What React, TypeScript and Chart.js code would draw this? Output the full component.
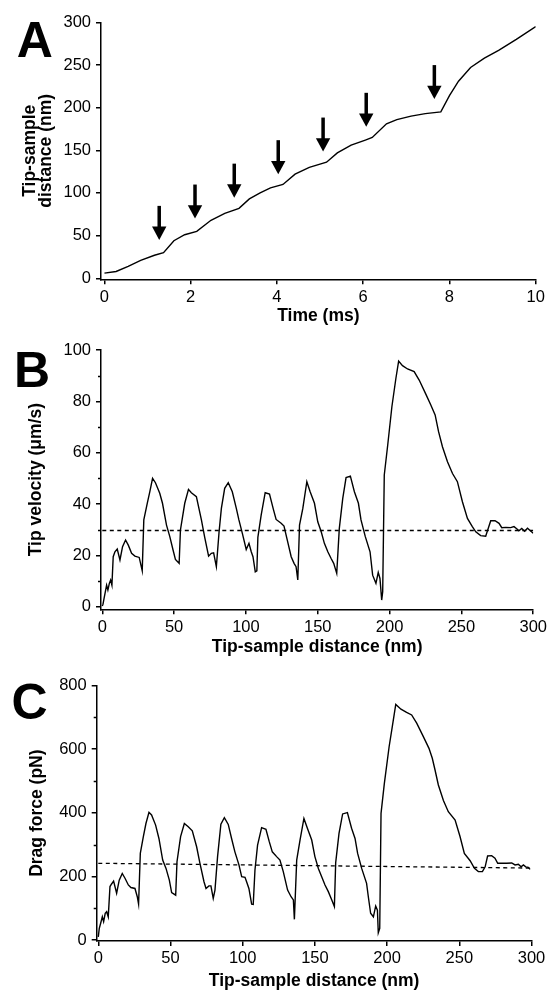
import React, { useEffect, useRef } from 'react';
import { Chart, registerables } from 'chart.js';

Chart.register(...registerables);

const FONT = "'Liberation Sans', Arial, Helvetica, sans-serif";

// ---------- Panel A: tip-sample distance vs time ----------
const timeA = [0, 0.27, 0.55, 0.84, 1.16, 1.37, 1.61, 1.86, 2.14, 2.47, 2.79, 3.12, 3.36, 3.61, 3.85, 4.14, 4.42, 4.75, 5.15, 5.4, 5.72, 6.05, 6.21, 6.54, 6.78, 7.11, 7.44, 7.8, 8.0, 8.21, 8.49, 8.81, 9.14, 9.55, 10];
const distA = [6, 8, 14, 21, 27, 30, 44, 51, 55, 68, 76, 82, 93, 100, 106, 110, 122, 130, 136, 147, 156, 162, 165, 181, 186, 190, 193, 195, 214, 231, 247, 258, 267, 280, 295];
const arrowTimes = [1.27, 2.1, 3.01, 4.03, 5.07, 6.07, 7.65];
const arrowTips = [45, 70, 94.5, 122, 148.5, 177.5, 210];
const ticksAx = [0, 2, 4, 6, 8, 10];
const ticksAy = [0, 50, 100, 150, 200, 250, 300];

// ---------- Panel B: tip velocity vs distance ----------
const distB = [0, 0.5, 1.2, 2.1, 3, 3.9, 4.9, 5.8, 6.7, 7.6, 8.8, 10.4, 12.3, 14.1, 16.2, 18.1, 20.4, 22.7, 25.7, 27.8, 28.9, 31.3, 33.1, 35, 37, 40, 41.9, 44.7, 47, 49.3, 50.9, 53.5, 54.4, 57.4, 60, 62, 65.5, 69, 71.3, 74, 75.9, 77.5, 79.4, 81.3, 82.9, 85.2, 87.7, 90.5, 93.3, 95.1, 97.5, 100.2, 102.1, 103.7, 104.9, 106.5, 107.6, 108.3, 110.6, 113.4, 116.4, 119.2, 121, 124.5, 126.5, 128.5, 131.5, 133.5, 134.9, 136.1, 137.3, 139.6, 142.4, 144.7, 147.7, 150, 152.4, 154.6, 157, 159.3, 161.1, 163.2, 165, 167.4, 169.7, 172.7, 175.5, 178.3, 180.1, 183.1, 186.4, 188.2, 190.5, 192.1, 193.3, 194.5, 195.2, 196.3, 198.7, 201.6, 204.4, 206.3, 209, 212.5, 217.1, 220.6, 225.3, 228.7, 231.7, 234.1, 236.8, 240.3, 243.8, 247.2, 250.7, 254.2, 257.6, 260, 263.4, 266.9, 270.4, 273.4, 276.2, 278.1, 280.9, 284.3, 286.6, 288.5, 290, 292, 294, 296, 298, 300];
const velB = [0.3, 1, 3.2, 5.8, 8.4, 6.5, 9.1, 10.4, 8.4, 19.5, 21.4, 22.5, 18.2, 23.4, 26, 24, 20.8, 19.7, 19.2, 14, 33.8, 40.3, 44.8, 50, 48.3, 44.2, 40.3, 31.8, 27.3, 22, 18.4, 16.9, 29.9, 40.3, 45.7, 44.4, 42.9, 33.8, 27, 19.7, 20.8, 21, 15.6, 29.2, 38.3, 46.1, 48.3, 44.8, 38.3, 33.8, 28.6, 22.3, 24.7, 21.4, 19.5, 13.6, 14, 27, 35.7, 44.4, 43.9, 37.7, 34, 32.5, 31.4, 26.6, 19.5, 16.9, 15.6, 10.4, 31.8, 38.3, 48.7, 44.8, 40.3, 33.1, 29.2, 24.7, 21.4, 18.8, 16.9, 13, 30.5, 42.2, 50.3, 50.9, 44.8, 40.3, 33.8, 27.3, 21.4, 12.3, 9.1, 13.4, 11, 2.6, 5.9, 51.3, 63, 77.9, 89, 95.7, 93.9, 92.6, 91.6, 88.3, 82.7, 78.6, 74.7, 68.2, 62.3, 56.5, 51.9, 48.7, 40.9, 34.4, 31.2, 29.2, 27.7, 27.5, 33.5, 33.5, 32.5, 30.8, 30.9, 30.8, 31.2, 30.4, 29.6, 30.5, 29.4, 30.6, 29.6, 28.6];
const refDist = [0, 300];
const refVelB = [29.7, 29.7];
const ticksBx = [0, 50, 100, 150, 200, 250, 300];
const ticksBy = [0, 20, 40, 60, 80, 100];
const minorBy = [10, 30, 50, 70, 90];

// ---------- Panel C: drag force vs distance ----------
const distC = [0, 0.7, 1.6, 2.8, 3.7, 4.8, 5.8, 6.9, 8.1, 9.2, 10.6, 12.7, 14.5, 16.6, 18.5, 20.8, 22.6, 25.4, 27, 27.9, 29.1, 31.2, 33, 35.1, 36.9, 39.7, 42, 44.6, 46.9, 49.2, 50.8, 53.6, 54.5, 57, 59.6, 62.3, 65.1, 68.1, 70.4, 73.2, 74.6, 76.6, 78, 79.6, 80.8, 82.6, 84.9, 87.3, 90, 92.3, 94.6, 97.4, 99.3, 101.6, 102.7, 104.3, 106.2, 107.3, 108.5, 110.3, 113.1, 116.1, 118.4, 120.5, 123.5, 125.8, 128.1, 131.1, 133.5, 135.1, 135.8, 137.4, 139.7, 142.4, 144.8, 147.8, 150, 152.4, 154.7, 157, 159.3, 161.7, 163.5, 164.4, 166.7, 169.2, 172.5, 175.4, 177.8, 179.6, 182.4, 185.8, 187, 188.6, 190.5, 192.1, 193.3, 193.9, 194.9, 195.8, 198.1, 201.4, 203.6, 206, 209.6, 213.5, 217, 220.5, 225.1, 229, 231.3, 233.2, 235.5, 239, 242.4, 247.1, 250.5, 253.5, 257.5, 260.5, 263.2, 266, 267.9, 269.6, 272.4, 274.7, 276.6, 279.3, 282.8, 286.3, 288.6, 290.9, 292.8, 294.4, 296, 297.8, 299];
const forceC = [10, 37, 52, 73, 58, 84, 89, 73, 168, 176, 185, 147, 188, 209, 194, 173, 165, 162, 136, 113, 272, 325, 366, 401, 393, 361, 319, 251, 225, 188, 149, 141, 246, 325, 366, 356, 343, 293, 241, 183, 162, 170, 170, 131, 157, 262, 364, 384, 363, 319, 277, 236, 199, 197, 183, 162, 113, 112, 220, 298, 353, 348, 309, 277, 262, 251, 215, 157, 136, 126, 65, 251, 314, 382, 351, 314, 262, 225, 199, 173, 152, 126, 105, 243, 335, 396, 400, 351, 319, 272, 225, 178, 136, 84, 73, 107, 94, 23, 37, 398, 492, 607, 670, 740, 725, 715, 707, 681, 639, 602, 571, 534, 487, 438, 403, 377, 325, 272, 249, 225, 215, 215, 230, 264, 265, 257, 241, 241, 241, 242, 236, 238, 230, 236, 230, 228, 222];
const refForceC = [241, 226];
const ticksCx = [0, 50, 100, 150, 200, 250, 300];
const ticksCy = [0, 200, 400, 600, 800];
const minorCy = [100, 300, 500, 700];

const toXY = (xs: number[], ys: number[]) => xs.map((x, i) => ({ x, y: ys[i] }));

type PanelProps = {
  top: number;
  height: number;
  padTop: number;
  padRight: number;
  yWidth: number;
  xHeight: number;
  xMin: number;
  xMax: number;
  yMin: number;
  yMax: number;
  xTicks: number[];
  yTicks: number[];
  yMinor: number[];
  xTitle: string;
  yTitle: string | string[];
  yTitlePad: number;
  xTitlePad: number;
  datasets: any[];
  arrows?: boolean;
};

function Panel(p: PanelProps) {
  const ref = useRef<HTMLCanvasElement>(null);
  useEffect(() => {
    const minorPlugin = {
      id: 'minorTicks',
      afterDraw(chart: any) {
        const { ctx, chartArea, scales } = chart;
        const y = scales.y;
        ctx.save();
        ctx.strokeStyle = '#000';
        ctx.lineWidth = 1.5;
        p.yMinor.forEach((v) => {
          const py = Math.round(y.getPixelForValue(v)) + 0.5;
          ctx.beginPath();
          ctx.moveTo(chartArea.left - 3, py);
          ctx.lineTo(chartArea.left, py);
          ctx.stroke();
        });
        ctx.restore();
      },
    };
    const arrowPlugin = {
      id: 'arrows',
      afterDatasetsDraw(chart: any) {
        if (!p.arrows) return;
        const { ctx, scales } = chart;
        ctx.save();
        ctx.fillStyle = '#000';
        arrowTimes.forEach((t, i) => {
          const px = scales.x.getPixelForValue(t);
          const py = scales.y.getPixelForValue(arrowTips[i]);
          ctx.fillRect(px - 1.75, py - 34, 3.5, 22);
          ctx.beginPath();
          ctx.moveTo(px - 7.2, py - 13.3);
          ctx.lineTo(px + 7.2, py - 13.3);
          ctx.lineTo(px, py);
          ctx.closePath();
          ctx.fill();
        });
        ctx.restore();
      },
    };
    const axisCommon = {
      type: 'linear' as const,
      grid: {
        display: true,
        drawOnChartArea: false,
        drawTicks: true,
        tickLength: 5,
        color: '#000',
        tickColor: '#000',
        lineWidth: 1.5,
        tickWidth: 1.5,
      },
      border: { display: true, color: '#000', width: 1.5 },
    };
    const chart = new Chart(ref.current as HTMLCanvasElement, {
      type: 'line',
      data: { datasets: p.datasets },
      options: {
        animation: false,
        responsive: false,
        devicePixelRatio: 1,
        layout: { padding: { top: p.padTop, right: p.padRight, left: 0, bottom: 0 } },
        plugins: { legend: { display: false }, tooltip: { enabled: false } },
        elements: { point: { radius: 0 }, line: { tension: 0 } },
        scales: {
          x: {
            ...axisCommon,
            min: p.xMin,
            max: p.xMax,
            afterBuildTicks: (s: any) => {
              s.ticks = p.xTicks.map((v) => ({ value: v }));
            },
            afterFit: (s: any) => {
              s.height = p.xHeight;
            },
            ticks: {
              color: '#000',
              font: { family: FONT, size: 16.5 },
              padding: 3,
              maxRotation: 0,
              autoSkip: false,
            },
            title: {
              display: true,
              text: p.xTitle,
              color: '#000',
              font: { family: FONT, size: 17.5, weight: 'bold', lineHeight: 1.2 },
              padding: { top: 0, bottom: p.xTitlePad },
            },
          },
          y: {
            ...axisCommon,
            min: p.yMin,
            max: p.yMax,
            afterBuildTicks: (s: any) => {
              s.ticks = p.yTicks.map((v) => ({ value: v }));
            },
            afterFit: (s: any) => {
              s.width = p.yWidth;
            },
            ticks: {
              color: '#000',
              font: { family: FONT, size: 16.5 },
              padding: 5,
              autoSkip: false,
            },
            title: {
              display: true,
              text: p.yTitle,
              color: '#000',
              font: { family: FONT, size: 17.5, weight: 'bold', lineHeight: 0.92 },
              padding: { top: p.yTitlePad, bottom: 0 },
            },
          },
        },
      } as any,
      plugins: [minorPlugin, arrowPlugin],
    });
    return () => chart.destroy();
  }, []);
  return (
    <canvas
      ref={ref}
      width={550}
      height={p.height}
      style={{ position: 'absolute', left: 0, top: p.top, width: 550, height: p.height }}
    />
  );
}

const solid = (data: any[]) => ({
  data,
  borderColor: '#000',
  borderWidth: 1.4,
  pointRadius: 0,
  fill: false,
});
const dashed = (data: any[]) => ({
  data,
  borderColor: '#000',
  borderWidth: 1.3,
  borderDash: [4, 3.5],
  pointRadius: 0,
  fill: false,
});

const letterStyle = (left: number, top: number): React.CSSProperties => ({
  position: 'absolute',
  left,
  top,
  fontFamily: FONT,
  fontWeight: 'bold',
  fontSize: 50,
  lineHeight: '50px',
  color: '#000',
});

export default function App() {
  return (
    <div style={{ position: 'absolute', left: 0, top: 0, width: 550, height: 992, background: '#fff', overflow: 'hidden' }}>
      <Panel
        top={0}
        height={330}
        padTop={22.3}
        padRight={14.3}
        yWidth={101}
        xHeight={50.7}
        xMin={-0.08}
        xMax={10}
        yMin={-1.2}
        yMax={300}
        xTicks={ticksAx}
        yTicks={ticksAy}
        yMinor={[]}
        xTitle="Time (ms)"
        yTitle={['Tip-sample', 'distance (nm)']}
        yTitlePad={21.7}
        xTitlePad={3}
        datasets={[solid(toXY(timeA, distA))]}
        arrows
      />
      <Panel
        top={330}
        height={330}
        padTop={20}
        padRight={15.7}
        yWidth={101}
        xHeight={50.7}
        xMin={-0.9}
        xMax={300}
        yMin={-1}
        yMax={100}
        xTicks={ticksBx}
        yTicks={ticksBy}
        yMinor={minorBy}
        xTitle="Tip-sample distance (nm)"
        yTitle="Tip velocity (μm/s)"
        yTitlePad={28.3}
        xTitlePad={2.5}
        datasets={[dashed(toXY(refDist, refVelB)), solid(toXY(distB, velB))]}
      />
      <Panel
        top={660}
        height={332}
        padTop={25.3}
        padRight={18.5}
        yWidth={96.7}
        xHeight={51}
        xMin={-1.1}
        xMax={300}
        yMin={-3}
        yMax={800}
        xTicks={ticksCx}
        yTicks={ticksCy}
        yMinor={minorCy}
        xTitle="Tip-sample distance (nm)"
        yTitle="Drag force (pN)"
        yTitlePad={29.3}
        xTitlePad={0}
        datasets={[dashed(toXY(refDist, refForceC)), solid(toXY(distC, forceC))]}
      />
      <div style={letterStyle(16.7, 15.2)}>A</div>
      <div style={letterStyle(14, 345)}>B</div>
      <div style={letterStyle(11.5, 677)}>C</div>
    </div>
  );
}
